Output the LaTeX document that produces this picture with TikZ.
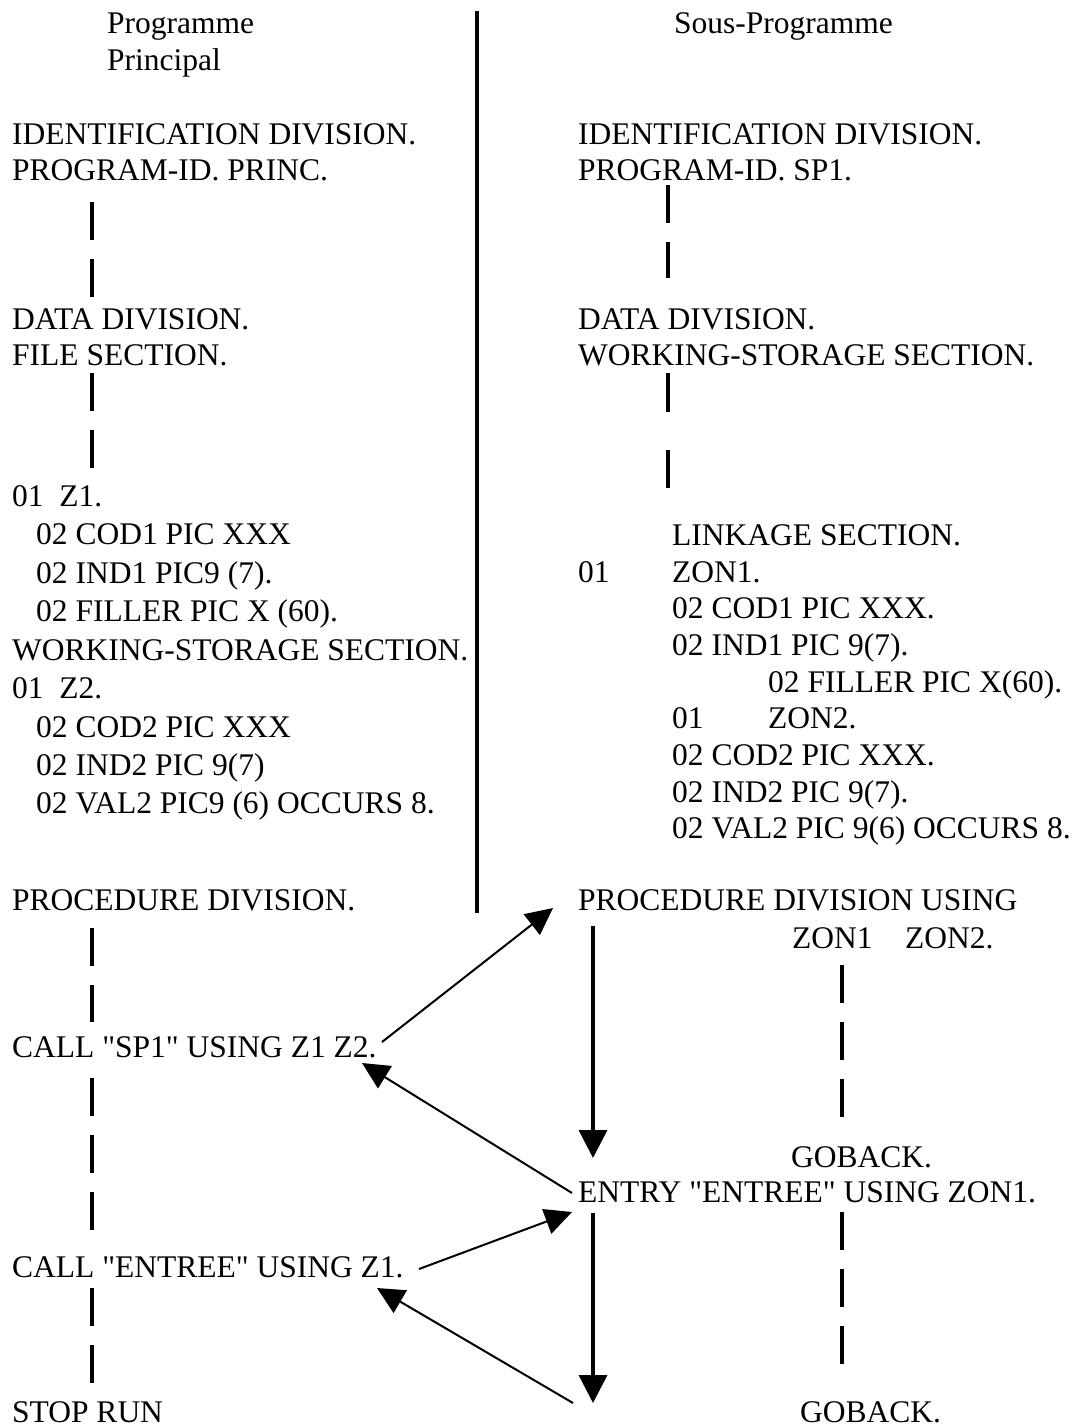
\documentclass[tikz,border=0pt]{standalone}
\usepackage{fontspec}
\newfontfamily\codefont{Liberation Serif}
\usetikzlibrary{arrows.meta}
\begin{document}
\begin{tikzpicture}[x=1pt,y=-1pt,
  txt/.style={anchor=base west,inner sep=0pt,font=\codefont\fontsize{31.5}{38}\selectfont},
  dashline/.style={line width=3.3pt,dash pattern=on 38pt off 19pt},
  bar/.style={line width=4.2pt},
  flow/.style={line width=3.5pt,-{Triangle[length=28pt,width=28pt]}},
  link/.style={line width=2pt,-{Triangle[length=27pt,width=26pt]}}]
\useasboundingbox (0,0) rectangle (1087,1428);
% ---------- left column: main program
\node[txt] (pp1) at (107,33) {Programme};
\node[txt] (pp2) at (107,70) {Principal};
\node[txt] (lid) at (12,144) {IDENTIFICATION DIVISION.};
\node[txt] (lpid) at (12,180) {PROGRAM-ID. PRINC.};
\node[txt] (ldata) at (12,329) {DATA DIVISION.};
\node[txt] (lfile) at (12,365) {FILE SECTION.};
\node[txt] (lz1) at (12,506) {01\ \ Z1.};
\node[txt] (lcod1) at (36,544) {02 COD1 PIC XXX};
\node[txt] (lind1) at (36,583) {02 IND1 PIC9 (7).};
\node[txt] (lfil) at (36,621) {02 FILLER PIC X (60).};
\node[txt] (lws) at (12,660) {WORKING-STORAGE SECTION.};
\node[txt] (lz2) at (12,698) {01\ \ Z2.};
\node[txt] (lcod2) at (36,737) {02 COD2 PIC XXX};
\node[txt] (lind2) at (36,775) {02 IND2 PIC 9(7)};
\node[txt] (lval2) at (36,813) {02 VAL2 PIC9 (6) OCCURS 8.};
\node[txt] (lproc) at (12,910) {PROCEDURE DIVISION.};
\node[txt] (call1) at (12,1057) {CALL "SP1" USING Z1 Z2.};
\node[txt] (call2) at (12,1277) {CALL "ENTREE" USING Z1.};
\node[txt] (stop) at (12,1422) {STOP RUN};
% ---------- right column: sub-program
\node[txt] (sp) at (674,33) {Sous-Programme};
\node[txt] (rid) at (578,144) {IDENTIFICATION DIVISION.};
\node[txt] (rpid) at (578,180) {PROGRAM-ID. SP1.};
\node[txt] (rdata) at (578,329) {DATA DIVISION.};
\node[txt] (rws) at (578,365) {WORKING-STORAGE SECTION.};
\node[txt] (rlink) at (672,545) {LINKAGE SECTION.};
\node[txt] (rzon1) at (578,582) {\makebox[94pt][l]{01}ZON1.};
\node[txt] (rcod1) at (672,618) {02 COD1 PIC XXX.};
\node[txt] (rind1) at (672,655) {02 IND1 PIC 9(7).};
\node[txt] (rfil) at (768,692) {02 FILLER PIC X(60).};
\node[txt] (rzon2) at (672,728) {\makebox[96pt][l]{01}ZON2.};
\node[txt] (rcod2) at (672,765) {02 COD2 PIC XXX.};
\node[txt] (rind2) at (672,802) {02 IND2 PIC 9(7).};
\node[txt] (rval2) at (672,838) {02 VAL2 PIC 9(6) OCCURS 8.};
\node[txt] (rproc) at (578,910) {PROCEDURE DIVISION USING};
\node[txt] (rzons) at (792,948) {\makebox[113pt][l]{ZON1}ZON2.};
\node[txt] (gb1) at (791,1167) {GOBACK.};
\node[txt] (entry) at (578,1202) {ENTRY "ENTREE" USING ZON1.};
\node[txt] (gb2) at (800,1422) {GOBACK.};
% ---------- separator bar
\coordinate (bartop) at (477,11);
\coordinate (barbot) at (477,913);
\draw[bar] (bartop) -- (barbot);
% ---------- dashed continuation marks
\coordinate (ld1a) at (92,202);  \coordinate (ld1b) at (92,297);
\coordinate (ld2a) at (92,373);  \coordinate (ld2b) at (92,468);
\coordinate (ld3a) at (92,928);  \coordinate (ld3b) at (92,1022);
\coordinate (ld4a) at (92,1078); \coordinate (ld4b) at (92,1232);
\coordinate (ld5a) at (92,1288); \coordinate (ld5b) at (92,1383);
\coordinate (rd1a) at (668,185); \coordinate (rd1b) at (668,278);
\coordinate (rd2a) at (668,373); \coordinate (rd2b) at (668,488);
\coordinate (rd3a) at (842,965); \coordinate (rd3b) at (842,1117);
\coordinate (rd4a) at (842,1212); \coordinate (rd4b) at (842,1365);
\foreach \p in {ld1,ld2,ld3,ld4,ld5,rd1,rd3,rd4}
  \draw[dashline] (\p a) -- (\p b);
\draw[dashline,dash pattern=on 39pt off 38pt] (rd2a) -- (rd2b);
% ---------- control flow arrows
\coordinate (a1s) at (382,1042); \coordinate (a1e) at (553,908);
\coordinate (r1s) at (572,1193); \coordinate (r1e) at (362,1063);
\coordinate (a2s) at (419,1269); \coordinate (a2e) at (572,1212);
\coordinate (r2s) at (573,1403); \coordinate (r2e) at (377,1288);
\coordinate (v1s) at (593,926);  \coordinate (v1e) at (593,1158);
\coordinate (v2s) at (593,1213); \coordinate (v2e) at (593,1403);
\draw[link] (a1s) -- (a1e);
\draw[link] (r1s) -- (r1e);
\draw[link] (a2s) -- (a2e);
\draw[link] (r2s) -- (r2e);
\draw[flow] (v1s) -- (v1e);
\draw[flow] (v2s) -- (v2e);
\end{tikzpicture}
\end{document}
